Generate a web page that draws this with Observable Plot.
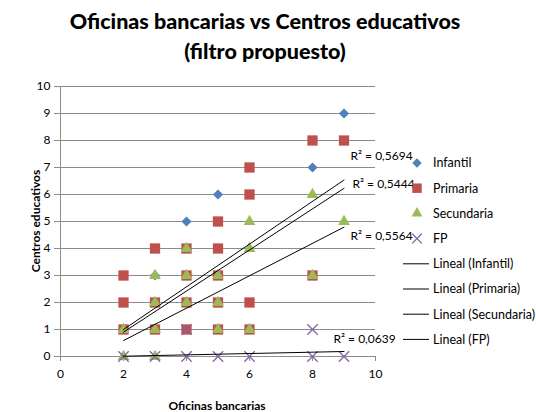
<!DOCTYPE html>
<html>
<head>
<meta charset="utf-8">
<script src="https://cdn.jsdelivr.net/npm/d3@7"></script>
<script src="https://cdn.jsdelivr.net/npm/@observablehq/plot@0.6"></script>
<style>
  html, body { margin: 0; padding: 0; background: #fff; }
  #wrap { position: relative; width: 536px; height: 412px; font-family: Lato, "Open Sans", sans-serif; }
  #title { position: absolute; left: 0; width: 530px; top: 6px; text-align: center; font-weight: 900; font-size: 21.5px; line-height: 30px; color: #000; }
  .axtitle { position: absolute; font-weight: bold; font-size: 12px; color: #000; white-space: nowrap; }
  #chart { position: absolute; left: 0; top: 0; }
  #legend { position: absolute; left: 0; top: 0; }
</style>
</head>
<body>
<div id="wrap">
  <div id="chart"></div>
  <svg id="legend" width="536" height="412"></svg>
  <div id="title">Oficinas bancarias vs Centros educativos<br>(filtro propuesto)</div>
  <div class="axtitle" id="xtitle" style="left:217px; top:405px; transform:translate(-50%,-50%);">Oficinas bancarias</div>
  <div class="axtitle" id="ytitle" style="left:35px; top:221px; transform:translate(-50%,-50%) rotate(-90deg);">Centros educativos</div>
</div>
<script>
// ---- data ----
const seriesNames = ["Infantil", "Primaria", "Secundaria", "FP"];
const infantilX = [3, 4, 5, 8, 9];
const infantilY = [3, 5, 6, 7, 9];
const primariaX = [2, 2, 2, 3, 3, 3, 4, 4, 4, 4, 5, 5, 5, 5, 5, 6, 6, 6, 6, 8, 8, 9];
const primariaY = [3, 2, 1, 4, 2, 1, 4, 3, 2, 1, 5, 4, 3, 2, 1, 7, 6, 2, 1, 8, 3, 8];
const secundariaX = [2, 2, 3, 3, 3, 3, 4, 4, 4, 5, 5, 5, 6, 6, 6, 8, 8, 9];
const secundariaY = [1, 0, 3, 2, 1, 0, 4, 3, 2, 3, 2, 1, 5, 4, 1, 6, 3, 5];
const fpX = [2, 3, 4, 4, 5, 6, 8, 8, 9];
const fpY = [0, 0, 0, 1, 0, 0, 0, 1, 0];
// linear trendlines (Excel "Lineal")
const trendSlope = [0.791, 0.761, 0.600, 0.025];
const trendIntercept = [-0.583, -0.620, -0.610, -0.040];
const r2Labels = ["R² = 0,5694", "R² = 0,5444", "R² = 0,5564", "R² = 0,0639"];
const xTicks = [0, 2, 4, 6, 8, 10];
const yTicks = [0, 1, 2, 3, 4, 5, 6, 7, 8, 9, 10];

// ---- styles ----
const colors = ["#4F81BD", "#C0504D", "#9BBB59", "#8064A2"];
const symbols = ["diamond2", "square", "triangle", "times"];
const radii = [4.6, 5.8, 4.4, 4.8];
const labelDx = [6.5, 8.5, 6.5, -10.5];
const labelDy = [-23.5, -4.5, 9, -12];
const gridColor = "#8c8c8c";

const toPts = (xs, ys) => xs.map((x, i) => ({x, y: ys[i]}));
const series = [
  toPts(infantilX, infantilY),
  toPts(primariaX, primariaY),
  toPts(secundariaX, secundariaY),
  toPts(fpX, fpY)
];
const allX = [].concat(infantilX, primariaX, secundariaX, fpX);
const [xmin, xmax] = d3.extent(allX);
const trend = seriesNames.map((name, i) => [xmin, xmax].map(x => ({serie: name, x, y: trendIntercept[i] + trendSlope[i] * x})));

const marks = [
  Plot.ruleY(yTicks, {stroke: gridColor, strokeWidth: 1}),
  Plot.ruleX([0], {stroke: gridColor}),
  Plot.axisY(yTicks, {tickSize: 6, tickPadding: 4, stroke: gridColor, label: null, fill: "#000", fontSize: 12}),
  Plot.axisX(xTicks, {tickSize: 5, tickPadding: 8, stroke: gridColor, label: null, fill: "#000", fontSize: 12}),
];
series.forEach((pts, i) => {
  const isStroke = symbols[i] === "times";
  marks.push(Plot.dot(pts, {
    x: "x", y: "y", symbol: () => symbols[i], r: radii[i],
    ...(isStroke ? {stroke: colors[i], strokeWidth: 1.3, fill: "none"} : {fill: colors[i], stroke: "none"})
  }));
});
trend.forEach((t) => marks.push(Plot.line(t, {x: "x", y: "y", stroke: "#000", strokeWidth: 1})));
trend.forEach((t, i) => marks.push(Plot.text([t[1]], {
  x: "x", y: "y", text: () => r2Labels[i], dx: labelDx[i], dy: labelDy[i],
  textAnchor: "start", fill: "#000", fontSize: 12
})));

const chart = Plot.plot({
  width: 536, height: 412,
  marginLeft: 60, marginRight: 161, marginTop: 86, marginBottom: 56,
  x: {domain: [0, 10]},
  y: {domain: [0, 10]},
  symbol: {type: "identity"},
  style: {fontFamily: "Lato, 'Open Sans', sans-serif", fontSize: "12px", color: "#000", background: "transparent"},
  marks
});
document.getElementById("chart").appendChild(chart);

// ---- legend ----
const leg = d3.select("#legend").style("font-family", "Lato, 'Open Sans', sans-serif").style("font-size", "12.5px");
const legendSymbolX = 417, legendTextX = 433, legendTop = 163, legendStep = 25.2;
const d3sym = {diamond2: d3.symbolDiamond2, square: d3.symbolSquare, triangle: d3.symbolTriangle, times: d3.symbolTimes};
seriesNames.forEach((name, i) => {
  const y = legendTop + i * legendStep;
  const p = leg.append("path")
    .attr("transform", `translate(${legendSymbolX},${y})`)
    .attr("d", d3.symbol(d3sym[symbols[i]], Math.PI * radii[i] * radii[i] * 0.85)());
  if (symbols[i] === "times") p.attr("fill", "none").attr("stroke", colors[i]).attr("stroke-width", 1.3);
  else p.attr("fill", colors[i]);
  leg.append("text").attr("x", legendTextX).attr("y", y).attr("dy", "0.35em").text(name);
});
seriesNames.forEach((name, i) => {
  const y = legendTop + (i + 4) * legendStep;
  leg.append("line").attr("x1", 403).attr("x2", 429).attr("y1", y).attr("y2", y).attr("stroke", "#000").attr("stroke-width", 1);
  leg.append("text").attr("x", legendTextX).attr("y", y).attr("dy", "0.35em").text(`Lineal (${name})`);
});
</script>
</body>
</html>
